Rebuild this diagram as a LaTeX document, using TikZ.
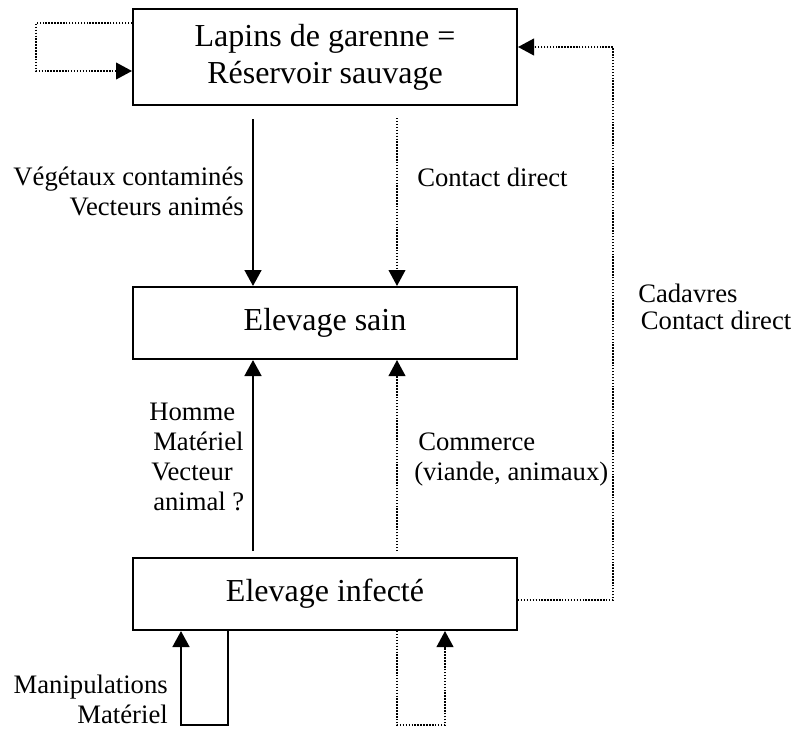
\documentclass[tikz,border=0pt]{standalone}
\usepackage{fontspec}
\setmainfont{Liberation Serif}
\usetikzlibrary{arrows.meta}
\newcommand{\lblfont}{\fontsize{20}{22.5}\selectfont}
\newcommand{\boxfont}{\fontsize{24}{27.75}\selectfont}
\begin{document}
\begin{tikzpicture}[x=0.75pt,y=-0.75pt,
  boxnode/.style={draw, line width=1.5pt, minimum width=288pt, inner sep=0pt, align=center, font=\boxfont},
  lbl/.style={inner sep=0pt, font=\lblfont},
  tip/.style={-{Triangle[length=12pt,width=12.5pt]}},
  solidline/.style={line width=2pt},
  dotline/.style={line width=1.4pt, dash pattern=on 1.1pt off 1.1pt}]
\useasboundingbox (0,0) rectangle (794,729);
% boxes
\node[boxnode, minimum height=72pt] (top) at (325,57) {Lapins de garenne =\\Réservoir sauvage};
\node[boxnode, minimum height=54pt] (mid) at (325,323) {Elevage sain};
\node[boxnode, minimum height=54pt] (bot) at (325,594) {Elevage infecté};
% coordinates
\coordinate (tl1) at (36,23);
\coordinate (tl2) at (36,71);
\coordinate (rc1) at (613,47);
\coordinate (rc2) at (613,600);
\coordinate (d1) at (253,119);
\coordinate (d2) at (397,118);
\coordinate (u1) at (253,551);
\coordinate (u2) at (397,551);
\coordinate (bl1) at (228,725);
\coordinate (bl2) at (181,725);
\coordinate (br1) at (397,725);
\coordinate (br2) at (445,725);
% connectors
\draw[dotline, tip] (top.west |- tl1) -- (tl1) -- (tl2) -- (top.west |- tl2);
\draw[dotline, tip] (bot.east |- rc2) -- (rc2) -- (rc1) -- (top.east |- rc1);
\draw[solidline, tip] (d1) -- (d1 |- mid.north);
\draw[dotline, tip] (d2) -- (d2 |- mid.north);
\draw[solidline, tip] (u1) -- (u1 |- mid.south);
\draw[dotline, tip] (u2) -- (u2 |- mid.south);
\draw[solidline, tip] (bl1 |- bot.south) -- (bl1) -- (bl2) -- (bl2 |- bot.south);
\draw[dotline, tip] (br1 |- bot.south) -- (br1) -- (br2) -- (br2 |- bot.south);
% labels
\node[lbl, anchor=east, align=right] (lv) at (244,191) {Végétaux contaminés\\Vecteurs animés};
\node[lbl, anchor=west, align=left] (lc) at (417,177) {Contact direct};
\node[lbl, anchor=west, align=left] (lcad) at (638,307) {Cadavres\\[-2.5pt]\hspace{2pt}Contact direct};
\node[lbl, anchor=west, align=left] (lh) at (149,457) {Homme\\\hspace{3pt}Matériel\\\hspace{1.5pt}Vecteur\\\hspace{3pt}animal ?};
\node[lbl, anchor=west, align=left] (lcom) at (414,460) {\hspace{3pt}Commerce\\(viande, animaux)};
\node[lbl, anchor=east, align=right] (lm) at (168,699) {Manipulations\\Matériel\hspace{2pt}};
\end{tikzpicture}
\end{document}
